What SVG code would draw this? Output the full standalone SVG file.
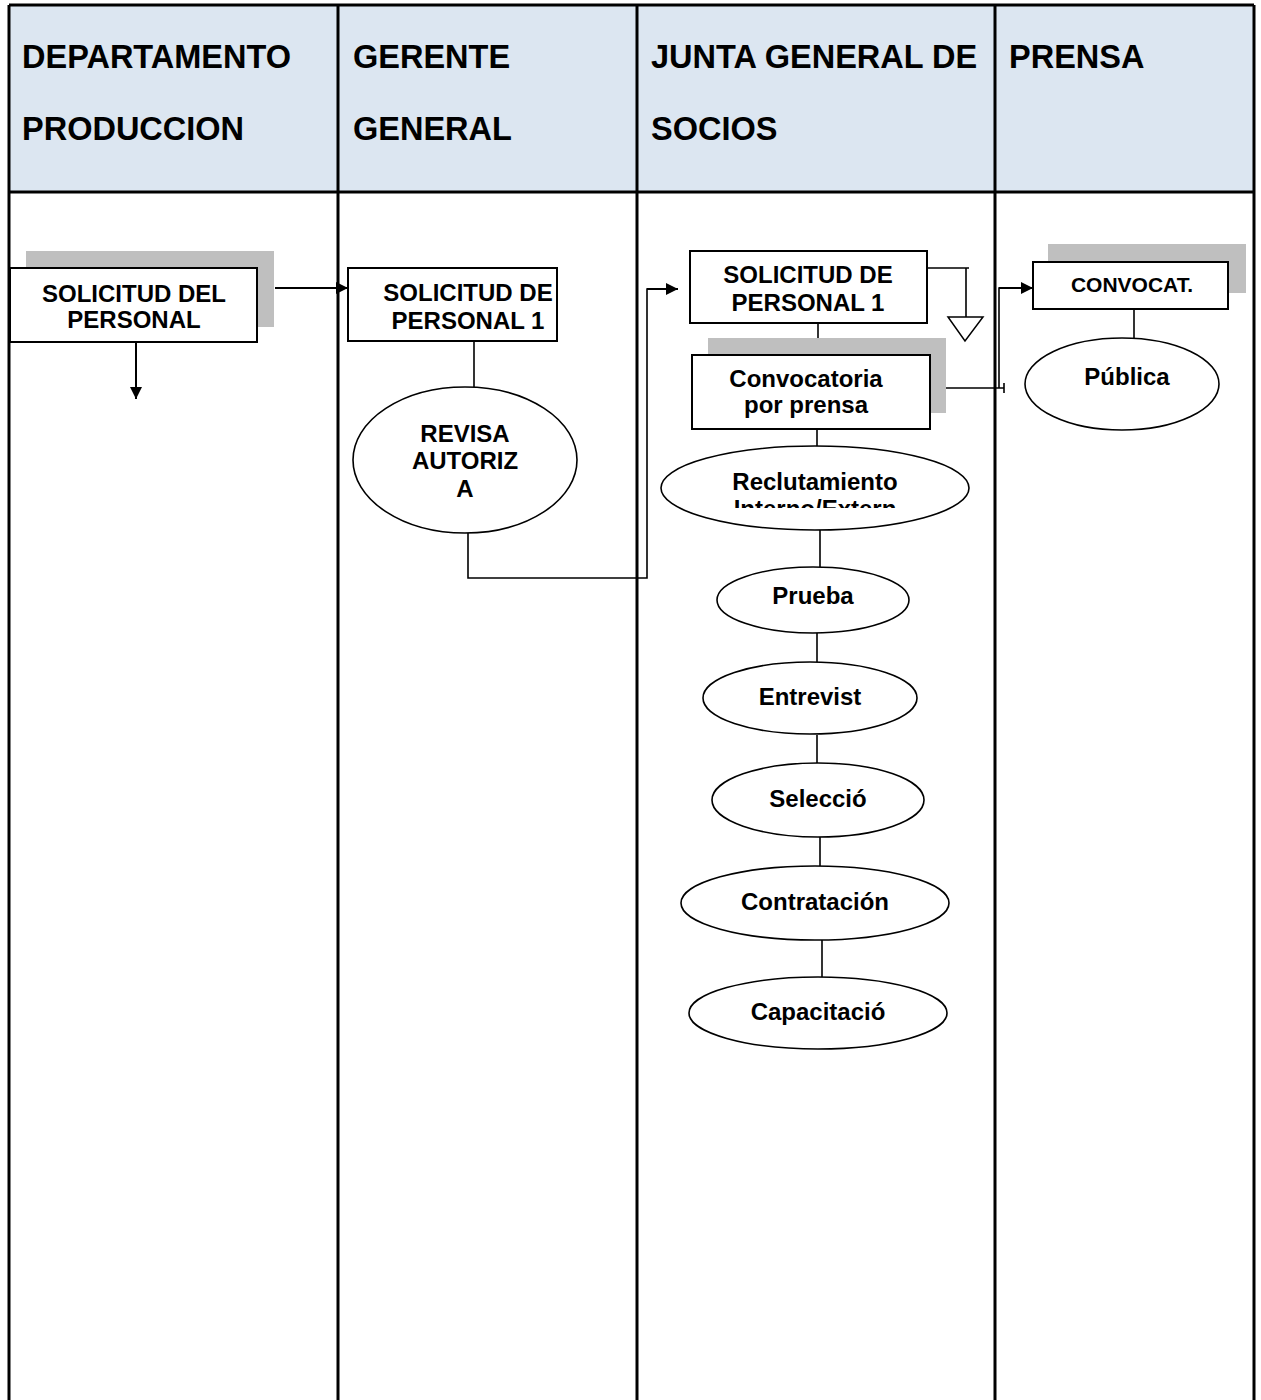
<svg xmlns="http://www.w3.org/2000/svg" width="1261" height="1400" viewBox="0 0 1261 1400">
<style>
.hdr{font-family:"Liberation Sans",Arial,sans-serif;font-weight:bold;font-size:32.5px;fill:#000}
.t{font-family:"Liberation Sans",Arial,sans-serif;font-weight:bold;font-size:24px;fill:#000;text-anchor:middle}
.s{font-family:"Liberation Sans",Arial,sans-serif;font-weight:bold;font-size:21px;fill:#000;text-anchor:middle}
.box{fill:#fff;stroke:#000;stroke-width:2}
.shadow{fill:#bfbfbf}
.ell{fill:#fff;stroke:#000;stroke-width:1.6}
.grid{stroke:#000;stroke-width:3;fill:none}
.c{stroke:#000;stroke-width:1.6;fill:none}
.ca{stroke:#000;stroke-width:2;fill:none}
</style>
<defs>
<marker id="ah" viewBox="0 0 10 10" refX="10" refY="5" markerWidth="14" markerHeight="12" orient="auto" markerUnits="userSpaceOnUse" overflow="visible">
<path d="M0,0 L10,5 L0,10 z" fill="#000"/>
</marker>
<clipPath id="clipRec"><rect x="660" y="450" width="312" height="58"/></clipPath>
</defs>
<rect width="1261" height="1400" fill="#fff"/>
<g id="table">
<rect x="9" y="5" width="1245" height="187" fill="#dce6f1"/>
<path class="grid" d="M9,5 H1254 M9,5 V1400 M1254,5 V1400 M9,192 H1254 M338,5 V1400 M637,5 V1400 M995,5 V1400"/>
<text class="hdr" x="22" y="68">DEPARTAMENTO</text>
<text class="hdr" x="22" y="140">PRODUCCION</text>
<text class="hdr" x="353" y="68">GERENTE</text>
<text class="hdr" x="353" y="140">GENERAL</text>
<text class="hdr" x="651" y="68">JUNTA GENERAL DE</text>
<text class="hdr" x="651" y="140">SOCIOS</text>
<text class="hdr" x="1009" y="68">PRENSA</text>
</g>
<g id="connectors">
<line class="ca" x1="275" y1="288" x2="348" y2="288" marker-end="url(#ah)"/>
<line class="ca" x1="136" y1="342" x2="136" y2="399" marker-end="url(#ah)"/>
<line class="c" x1="474" y1="341" x2="474" y2="388"/>
<path class="c" d="M468,533 V578 H647 V289 H660"/>
<line class="ca" x1="647" y1="289" x2="678" y2="289" marker-end="url(#ah)"/>
<path class="c" d="M927,268 H969 M966,268 V317"/>
<path d="M948,317 H983 L965,341 z" fill="#fff" stroke="#000" stroke-width="1.5"/>
<line class="c" x1="818" y1="323" x2="818" y2="355"/>
<path class="c" d="M930,388 H1004 M1004,383 V393 M999,388 V288 H1015"/>
<line class="ca" x1="999" y1="288" x2="1033" y2="288" marker-end="url(#ah)"/>
<line class="c" x1="1134" y1="309" x2="1134" y2="338"/>
<line class="c" x1="817" y1="429" x2="817" y2="446"/>
<line class="c" x1="820" y1="530" x2="820" y2="567"/>
<line class="c" x1="817" y1="633" x2="817" y2="662"/>
<line class="c" x1="817" y1="735" x2="817" y2="763"/>
<line class="c" x1="820" y1="837" x2="820" y2="866"/>
<line class="c" x1="822" y1="940" x2="822" y2="977"/>
</g>
<g id="n1">
<rect class="shadow" x="26" y="251" width="248" height="76"/>
<rect class="box" x="10" y="268" width="247" height="74"/>
<text class="t" x="134" y="302">SOLICITUD DEL</text>
<text class="t" x="134" y="328">PERSONAL</text>
</g>
<g id="n2">
<rect class="box" x="348" y="268" width="209" height="73"/>
<text class="t" x="468" y="301">SOLICITUD DE</text>
<text class="t" x="468" y="329">PERSONAL 1</text>
</g>
<g id="n3">
<rect class="box" x="690" y="251" width="237" height="72"/>
<text class="t" x="808" y="283">SOLICITUD DE</text>
<text class="t" x="808" y="311">PERSONAL 1</text>
</g>
<g id="n4">
<ellipse class="ell" cx="465" cy="460" rx="112" ry="73"/>
<text class="t" x="465" y="442">REVISA</text>
<text class="t" x="465" y="469">AUTORIZ</text>
<text class="t" x="465" y="497">A</text>
</g>
<g id="n5">
<rect class="shadow" x="708" y="338" width="238" height="75"/>
<rect class="box" x="692" y="355" width="238" height="74"/>
<text class="t" x="806" y="387">Convocatoria</text>
<text class="t" x="806" y="413">por prensa</text>
</g>
<g id="n6">
<rect class="shadow" x="1048" y="244" width="198" height="49"/>
<rect class="box" x="1033" y="262" width="195" height="47"/>
<text class="s" x="1132" y="292">CONVOCAT.</text>
</g>
<g id="n7">
<ellipse class="ell" cx="1122" cy="384" rx="97" ry="46"/>
<text class="t" x="1127" y="385">Pública</text>
</g>
<g id="n8">
<ellipse class="ell" cx="815" cy="488" rx="154" ry="42"/>
<text class="t" x="815" y="490">Reclutamiento</text>
<text class="t" x="815" y="517" clip-path="url(#clipRec)">Interno/Extern</text>
</g>
<g id="n9">
<ellipse class="ell" cx="813" cy="600" rx="96" ry="33"/>
<text class="t" x="813" y="604">Prueba</text>
</g>
<g id="n10">
<ellipse class="ell" cx="810" cy="698" rx="107" ry="36"/>
<text class="t" x="810" y="705">Entrevist</text>
</g>
<g id="n11">
<ellipse class="ell" cx="818" cy="800" rx="106" ry="37"/>
<text class="t" x="818" y="807">Selecció</text>
</g>
<g id="n12">
<ellipse class="ell" cx="815" cy="903" rx="134" ry="37"/>
<text class="t" x="815" y="910">Contratación</text>
</g>
<g id="n13">
<ellipse class="ell" cx="818" cy="1013" rx="129" ry="36"/>
<text class="t" x="818" y="1020">Capacitació</text>
</g>
</svg>
